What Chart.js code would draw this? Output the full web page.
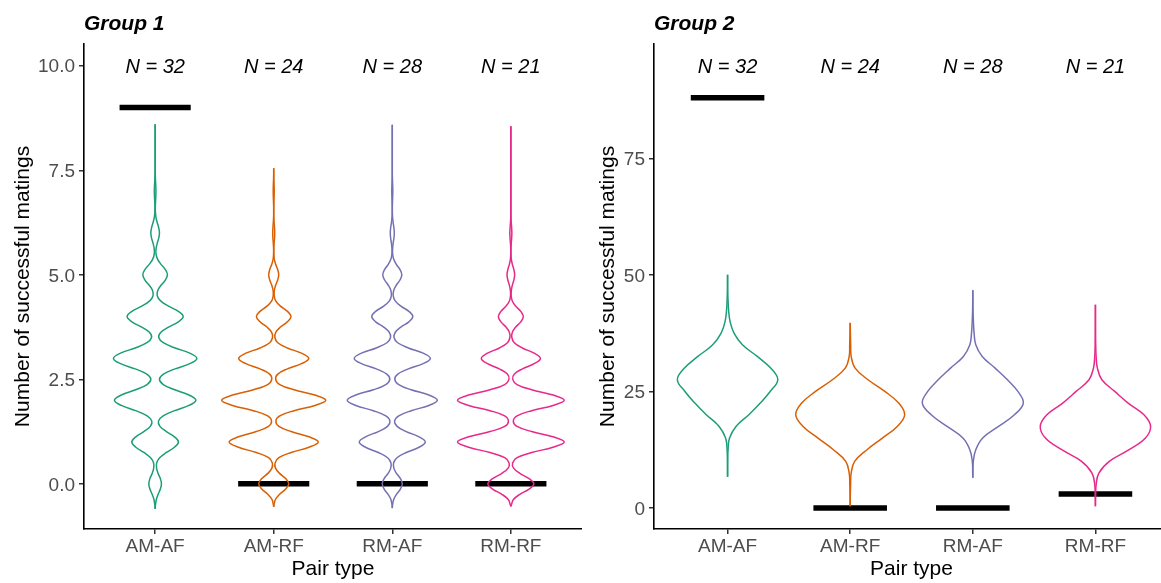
<!DOCTYPE html>
<html>
<head>
<meta charset="utf-8">
<script src="https://cdn.jsdelivr.net/npm/chart.js@4.4.1/dist/chart.umd.min.js"></script>
<style>
  html, body { margin: 0; padding: 0; background: #fff; overflow: hidden; width: 1161px; height: 583px; }
  #g1 { position: absolute; left: 0; top: 0; }
  #g2 { position: absolute; left: 582px; top: 0; }
</style>
</head>
<body>
<canvas id="g1" width="582" height="583"></canvas>
<canvas id="g2" width="587" height="583"></canvas>
<script>
const pairTypes = ['AM-AF', 'AM-RF', 'RM-AF', 'RM-RF'];
const pairColors = ['#1B9E77', '#D95F02', '#7570B3', '#E7298A'];
const sampleSizes = [32, 24, 28, 21];

// Group 1 : violin outline (relative density read at each level)
const g1Levels = [-0.5, -0.375, -0.25, -0.125,
  0, 0.125, 0.25, 0.375, 0.5, 0.625, 0.75, 0.875,
  1, 1.125, 1.25, 1.375, 1.5, 1.625, 1.75, 1.875,
  2, 2.125, 2.25, 2.375, 2.5, 2.625, 2.75, 2.875,
  3, 3.125, 3.25, 3.375, 3.5, 3.625, 3.75, 3.875,
  4, 4.125, 4.25, 4.375, 4.5, 4.625, 4.75, 4.875,
  5, 5.125, 5.25, 5.375, 5.5, 5.625, 5.75, 5.875,
  6, 6.125, 6.25, 6.375, 6.5, 6.625, 6.75, 6.875,
  7, 7.125, 7.25, 7.375, 7.5, 7.625, 7.75, 7.875,
  8, 8.125, 8.25, 8.375, 8.5];
const g1AMAF = [0.33, 1.2, 3.0, 5.2,
  6.3, 5.2, 3.0, 1.43, 1.54, 4.5, 11.2, 19.3,
  23.3, 19.3, 11.25, 4.8, 3.33, 8.0, 19.5, 33.8,
  40.7, 33.8, 19.6, 8.15, 4.3, 8.3, 20.0, 34.6,
  41.7, 34.6, 20.0, 8.2, 3.6, 5.74, 13.4, 23.2,
  28, 23.2, 13.4, 5.44, 2.1, 2.6, 5.9, 10.2,
  12.3, 10.2, 5.9, 2.38, 0.86, 0.94, 2.06, 3.57,
  4.3, 3.57, 2.06, 0.83, 0.27, 0.19, 0.38, 0.66,
  0.8, 0.66, 0.38, 0.15, 0.04, 0.01, 0.01, 0.01,
  0.01, 0.01, 0.01, 0.01, 0.01];
const g1AMRF = [0.35, 1.7, 5.85, 11.9,
  15, 11.9, 5.85, 1.82, 1.37, 5.1, 17.4, 35.2,
  44.5, 35.2, 17.4, 5.2, 2.2, 6.0, 20.3, 41.1,
  52, 41.1, 20.3, 6.0, 2.0, 4.1, 13.65, 27.7,
  35, 27.7, 13.65, 4.03, 1.2, 2.05, 6.75, 13.7,
  17.3, 13.7, 6.75, 1.98, 0.51, 0.61, 1.95, 3.95,
  5, 3.95, 1.95, 0.57, 0.14, 0.12, 0.39, 0.79,
  1, 0.79, 0.39, 0.12, 0.035, 0.057, 0.2, 0.4,
  0.5, 0.4, 0.2, 0.06, 0.01, 0, 0, 0,
  0, 0, 0, 0, 0];
const g1RMAF = [0.3, 1.4, 4.2, 8.1,
  10, 8.1, 4.2, 1.55, 1.3, 4.67, 13.9, 26.7,
  33, 26.7, 13.9, 4.8, 2.3, 6.45, 18.9, 36.5,
  45, 36.5, 18.9, 6.5, 2.5, 5.5, 16, 30.8,
  38, 30.8, 16, 5.4, 1.75, 3.04, 8.6, 16.6,
  20.5, 16.6, 8.6, 2.9, 0.9, 1.42, 4.0, 7.7,
  9.5, 7.7, 4.0, 1.34, 0.35, 0.32, 0.84, 1.62,
  2, 1.62, 0.84, 0.28, 0.075, 0.07, 0.21, 0.4,
  0.5, 0.4, 0.21, 0.07, 0.015, 0.01, 0.01, 0.01,
  0.01, 0.01, 0.01, 0.01, 0.01];
const g1RMRF = [0.53, 2.6, 9.0, 18.2,
  23, 18.2, 9.0, 2.75, 1.75, 6.1, 20.8, 42.1,
  53.3, 42.1, 20.8, 6.2, 2.45, 6.2, 20.8, 42.1,
  53.3, 42.1, 20.8, 6.15, 1.9, 3.5, 11.5, 23.3,
  29.5, 23.3, 11.5, 3.4, 0.97, 1.5, 4.9, 9.9,
  12.5, 9.9, 4.9, 1.44, 0.37, 0.46, 1.48, 3.0,
  3.8, 3.0, 1.48, 0.43, 0.11, 0.12, 0.39, 0.79,
  1, 0.79, 0.39, 0.11, 0.03, 0.01, 0.01, 0.01,
  0.01, 0.01, 0.01, 0.01, 0.01, 0.01, 0.01, 0.01,
  0.01, 0.01, 0.01, 0.01, 0.01];
const g1Low = [-0.6, -0.55, -0.58, -0.54];
const g1High = [8.6, 7.55, 8.59, 8.55];
const g1Bars = [9, 0, 0, 0];
const g1Ticks = [0, 2.5, 5, 7.5, 10];

// Group 2
const g2Levels = [2.5, 5, 7.5, 10, 12.5, 15, 17.5, 20, 22.5, 25, 27.5, 30, 32.5, 35, 37.5, 40, 42.5, 45, 47.5];
const g2AMAF = [0, 0, 0.05, 0.15, 0.5, 2, 8.5, 21.5, 33, 43, 50.7, 43.5, 30, 15, 6.5, 2.5, 1, 0.4, 0.1];
const g2AMRF = [0.1, 0.4, 1.0, 4.5, 17, 32.5, 47.5, 55, 49, 35, 18, 5, 1.0, 0.5, 0.2, 0, 0, 0, 0];
const g2RMAF = [0, 0, 0.1, 0.5, 3, 10, 26, 42, 51, 45.5, 35, 22.5, 9.5, 3, 1.3, 0.6, 0.2, 0.05, 0];
const g2RMRF = [0.2, 0.7, 3.5, 14, 34, 50.5, 55.7, 49, 33, 19.5, 6.5, 2, 0.7, 0.3, 0.15, 0.05, 0.02, 0, 0];
const g2Low = [6.7, 0.4, 6.5, 0.4];
const g2High = [50, 39.7, 46.7, 43.6];
const g2Bars = [88, 0, 0, 3];
const g2Ticks = [0, 25, 50, 75];

const fam = '"Liberation Sans", Arial, sans-serif';
Chart.defaults.font.family = fam;

function violinSets(levels, dens, low, high, bars) {
  const k = 0.45 / Math.max(...dens.flat());
  const sets = [];
  dens.forEach((d, i) => {
    const pts = [{y: low[i], w: 0}];
    levels.forEach((lv, j) => {
      if (lv > low[i] && lv < high[i]) pts.push({y: lv, w: d[j]});
    });
    pts.push({y: high[i], w: 0});
    [1, -1].forEach(side => sets.push({
      data: pts.map(p => ({x: i + 1 + side * p.w * k, y: p.y})),
      borderColor: pairColors[i],
      borderWidth: 1.5,
      pointRadius: 0,
      tension: 0.4,
      fill: false
    }));
  });
  bars.forEach((b, i) => sets.push({
    data: [{x: i + 0.7, y: b}, {x: i + 1.3, y: b}],
    borderColor: '#000',
    borderWidth: 5.5,
    borderCapStyle: 'butt',
    pointRadius: 0,
    tension: 0
  }));
  return sets;
}

const panelText = {
  id: 'panelText',
  afterDraw(chart, args, opts) {
    const {ctx, chartArea, scales} = chart;
    ctx.save();
    ctx.fillStyle = '#000';
    ctx.font = 'italic bold 21px ' + fam;
    ctx.textAlign = 'left';
    ctx.textBaseline = 'alphabetic';
    ctx.fillText(opts.title, chartArea.left, 30);
    ctx.font = 'italic 20px ' + fam;
    ctx.textAlign = 'center';
    ctx.textBaseline = 'middle';
    sampleSizes.forEach((n, i) => {
      ctx.fillText('N = ' + n, scales.x.getPixelForValue(i + 1), scales.y.getPixelForValue(opts.labelY) + 2);
    });
    ctx.restore();
  }
};

function makeChart(id, sets, yMin, yMax, yTicks, yFmt, axisW, titlePad, title, labelY) {
  return new Chart(document.getElementById(id), {
    type: 'line',
    data: {datasets: sets},
    options: {
      indexAxis: 'y',
      responsive: false,
      animation: false,
      layout: {padding: {top: 44, left: 0, right: 0, bottom: 0}},
      plugins: {
        legend: {display: false},
        tooltip: {enabled: false},
        panelText: {title: title, labelY: labelY}
      },
      scales: {
        x: {
          type: 'linear',
          min: 0.4,
          max: 4.6,
          afterBuildTicks: s => { s.ticks = pairTypes.map((_, i) => ({value: i + 1})); },
          afterFit: s => { s.height = 54; },
          ticks: {
            callback: v => pairTypes[v - 1],
            color: '#4D4D4D',
            font: {size: 19},
            padding: 1,
            maxRotation: 0,
            autoSkip: false
          },
          grid: {drawOnChartArea: false, drawTicks: true, tickLength: 5, color: '#333333', lineWidth: 1.5},
          border: {display: true, color: '#000', width: 1.6},
          title: {display: true, text: 'Pair type', color: '#000', font: {size: 21}, padding: {top: 0, bottom: 1}}
        },
        y: {
          type: 'linear',
          min: yMin,
          max: yMax,
          afterBuildTicks: s => { s.ticks = yTicks.map(v => ({value: v})); },
          afterFit: s => { s.width = axisW; },
          ticks: {
            callback: yFmt,
            color: '#4D4D4D',
            font: {size: 19},
            padding: 4,
            labelOffset: 1.5,
            autoSkip: false
          },
          grid: {drawOnChartArea: false, drawTicks: true, tickLength: 5, color: '#333333', lineWidth: 1.5},
          border: {display: true, color: '#000', width: 1.6},
          title: {display: true, text: 'Number of successful matings', color: '#000', font: {size: 21},
            padding: {top: titlePad, bottom: 0}}
        }
      }
    },
    plugins: [panelText]
  });
}

makeChart('g1', violinSets(g1Levels, [g1AMAF, g1AMRF, g1RMAF, g1RMRF], g1Low, g1High, g1Bars),
  -1.08, 10.52, g1Ticks, v => v.toFixed(1), 84, 10.4, 'Group 1', 10);
makeChart('g2', violinSets(g2Levels, [g2AMAF, g2AMRF, g2RMAF, g2RMRF], g2Low, g2High, g2Bars),
  -4.5, 99.5, g2Ticks, v => String(v), 72, 14, 'Group 2', 95);
</script>
</body>
</html>
